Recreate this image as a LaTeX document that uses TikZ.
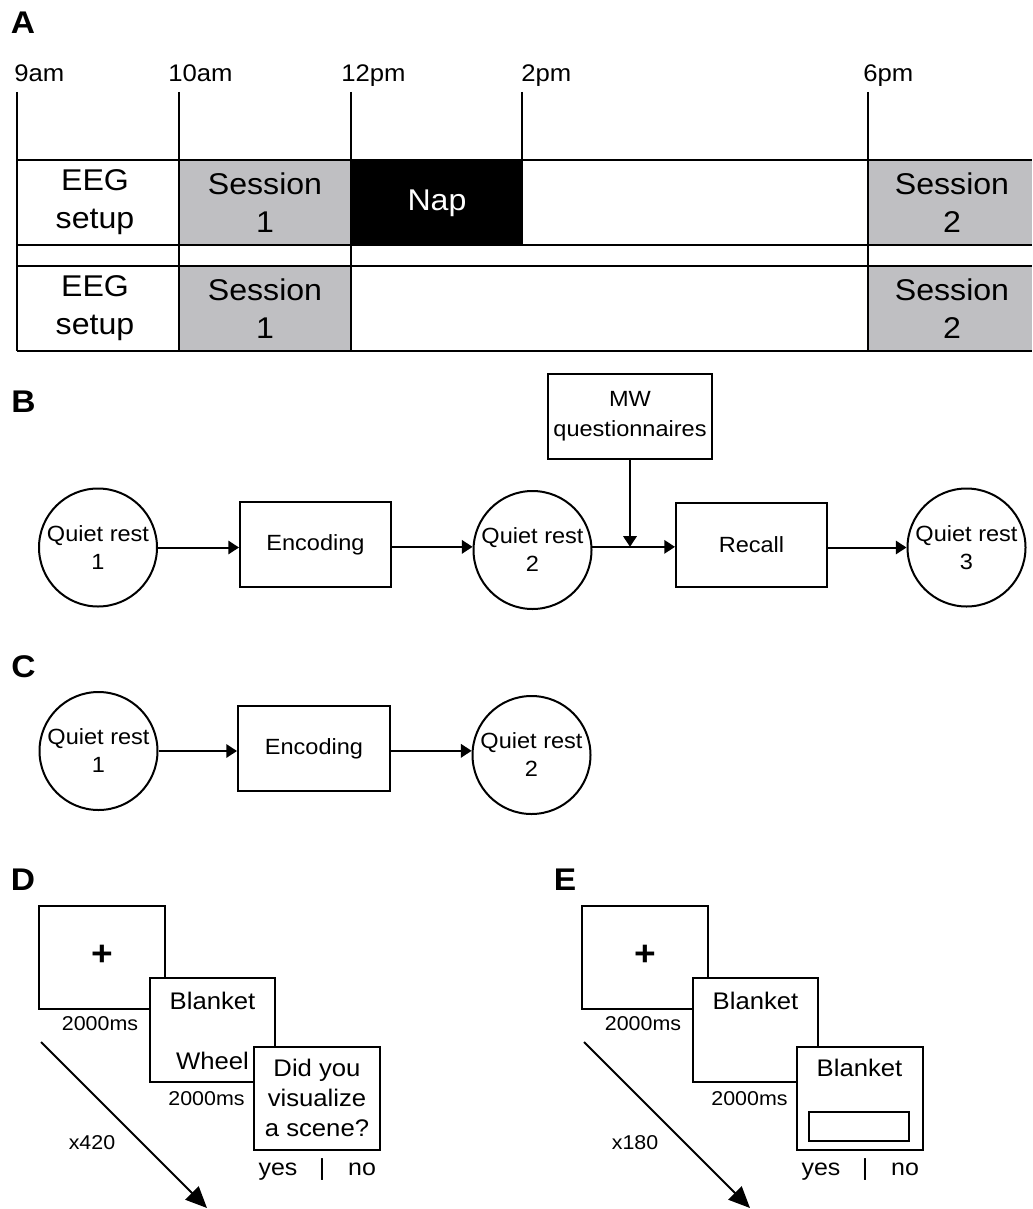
\documentclass[tikz,border=0pt]{standalone}
\usepackage{fontspec}
\setmainfont{Liberation Sans}[FakeStretch=1.07]
\usetikzlibrary{arrows.meta,calc}
\definecolor{cellgrey}{RGB}{191,191,194}
\begin{document}
\begin{tikzpicture}[x=0.75pt,y=-0.75pt,
  lbl/.style={font=\fontsize{23.5pt}{28pt}\selectfont\bfseries, inner sep=0pt},
  tick/.style={font=\fontsize{18pt}{22pt}\selectfont, anchor=base west, inner sep=0pt},
  cell/.style={font=\fontsize{22.5pt}{28.5pt}\selectfont, align=center, inner sep=0pt},
  tbl/.style={line width=1.9pt},
  flow/.style={draw, line width=1.5pt, font=\fontsize{16.5pt}{21pt}\selectfont, align=center, fill=white},
  rest/.style={flow, circle, minimum size=88.5pt, inner sep=0pt},
  proc/.style={flow, rectangle, inner sep=0pt},
  arr/.style={line width=1.5pt, -{Triangle[length=8pt,width=10pt]}},
  bigarr/.style={line width=1.5pt, -{Triangle[length=16pt,width=14pt]}},
  screen/.style={draw, fill=white, line width=1.5pt, minimum width=94.1pt, minimum height=77.6pt, inner sep=0pt},
  stim/.style={font=\fontsize{18pt}{22.5pt}\selectfont, inner sep=0pt},
  resp/.style={font=\fontsize{17.5pt}{22pt}\selectfont, inner sep=0pt, anchor=base},
  dur/.style={font=\fontsize{15pt}{18pt}\selectfont, inner sep=0pt},
  bigplus/.style={font=\fontsize{26pt}{30pt}\selectfont\bfseries, inner sep=0pt},
  answer/.style={draw, line width=1.5pt, minimum width=75pt, minimum height=21.75pt, inner sep=0pt}
]
\useasboundingbox (0,0) rectangle (1032,1209);

% ---------------- Panel A ----------------
\node[lbl] (la) at (23,23) {A};
\node[tick] (t9) at (14,82) {9am};
\node[tick] (t10) at (168,82) {10am};
\node[tick] (t12) at (341,82) {12pm};
\node[tick] (t2) at (521,82) {2pm};
\node[tick] (t6) at (863,82) {6pm};

\fill[cellgrey] (179,160) rectangle (351,245);
\fill[cellgrey] (179,266) rectangle (351,351);
\fill[cellgrey] (868,160) rectangle (1032,245);
\fill[cellgrey] (868,266) rectangle (1032,351);
\fill[black] (351,160) rectangle (522,245);

\draw[tbl] (17,160) -- (1032,160);
\draw[tbl] (17,245) -- (1032,245);
\draw[tbl] (17,266) -- (1032,266);
\draw[tbl] (17,351) -- (1032,351);
\draw[tbl] (17,92) -- (17,351);
\draw[tbl] (179,92) -- (179,351);
\draw[tbl] (351,92) -- (351,351);
\draw[tbl] (522,92) -- (522,245);
\draw[tbl] (868,92) -- (868,351);

\node[cell] (eeg1) at (95,202.5) {EEG\\setup};
\node[cell] (ses11) at (265,202.5) {Session\\1};
\node[cell, text=white] (nap) at (437,203) {Nap};
\node[cell] (ses21) at (952,202.5) {Session\\2};
\node[cell] (eeg2) at (95,308.5) {EEG\\setup};
\node[cell] (ses12) at (265,308.5) {Session\\1};
\node[cell] (ses22) at (952,308.5) {Session\\2};

% ---------------- Panel B ----------------
\node[lbl] (lb) at (23.5,402) {B};
\node[rest] (b1) at (98,547.5) {Quiet rest\\1};
\node[proc, minimum width=113.25pt, minimum height=63.75pt] (b2) at (315.5,544.5) {Encoding};
\node[rest] (b3) at (532.5,550) {Quiet rest\\2};
\node[proc, minimum width=123pt, minimum height=63.75pt, font=\fontsize{16.5pt}{22.5pt}\selectfont] (bmw) at (630,416.5) {MW\\questionnaires};
\node[proc, minimum width=113.25pt, minimum height=63pt] (b4) at (751.5,545) {Recall};
\node[rest] (b5) at (966.5,547.5) {Quiet rest\\3};
\coordinate (bj) at (b3.3 -| bmw.south);
\draw[arr] (b1.east) -- (b1.east -| b2.west);
\draw[arr] (b2.east |- b3.177) -- (b3.177);
\draw[arr] (b3.3) -- (b3.3 -| b4.west);
\draw[arr] (bmw.south) -- (bj);
\draw[arr] (b4.east |- b5.west) -- (b5.west);

% ---------------- Panel C ----------------
\node[lbl] (lc) at (23.5,667) {C};
\node[rest] (c1) at (98.5,751) {Quiet rest\\1};
\node[proc, minimum width=114pt, minimum height=63.75pt] (c2) at (314,748.5) {Encoding};
\node[rest] (c3) at (531.5,755) {Quiet rest\\2};
\draw[arr] (c1.east) -- (c1.east -| c2.west);
\draw[arr] (c2.east |- c3.176) -- (c3.176);

% ---------------- Panel D ----------------
\node[lbl] (ld) at (23,880) {D};
\node[screen] (d1) at (102,957.5) {};
\node[bigplus] (d1t) at (102,955) {+};
\node[dur] (d1d) at (100,1024) {2000ms};
\node[screen] (d2) at (212.5,1030) {};
\node[stim] (d2a) at (212.5,1000.5) {Blanket};
\node[stim] (d2b) at (212.5,1061) {Wheel};
\node[dur] (d2d) at (206.5,1099) {2000ms};
\node[screen] (d3) at (317,1098.5) {};
\node[stim, align=center] (d3t) at (317,1097.5) {Did you\\visualize\\a scene?};
\node[resp] (dyes) at (278,1175) {yes};
\node[resp] (dbar) at (322,1175) {|};
\node[resp] (dno) at (362,1175) {no};
\node[dur] (dn) at (92,1143) {x420};
\coordinate (da0) at (41,1042);
\coordinate (da1) at (207,1208);
\draw[bigarr] (da0) -- (da1);

% ---------------- Panel E ----------------
\node[lbl] (le) at (565,880) {E};
\node[screen] (e1) at (645,957.5) {};
\node[bigplus] (e1t) at (645,955) {+};
\node[dur] (e1d) at (643,1024) {2000ms};
\node[screen] (e2) at (755.5,1030) {};
\node[stim] (e2a) at (755.5,1000.5) {Blanket};
\node[dur] (e2d) at (749.5,1099) {2000ms};
\node[screen] (e3) at (860,1098.5) {};
\node[stim] (e3a) at (859.5,1067.5) {Blanket};
\node[answer] (e3b) at (859,1126.5) {};
\node[resp] (eyes) at (821,1175) {yes};
\node[resp] (ebar) at (865,1175) {|};
\node[resp] (eno) at (905,1175) {no};
\node[dur] (en) at (635,1143) {x180};
\coordinate (ea0) at (584,1042);
\coordinate (ea1) at (750,1208);
\draw[bigarr] (ea0) -- (ea1);
\end{tikzpicture}
\end{document}
